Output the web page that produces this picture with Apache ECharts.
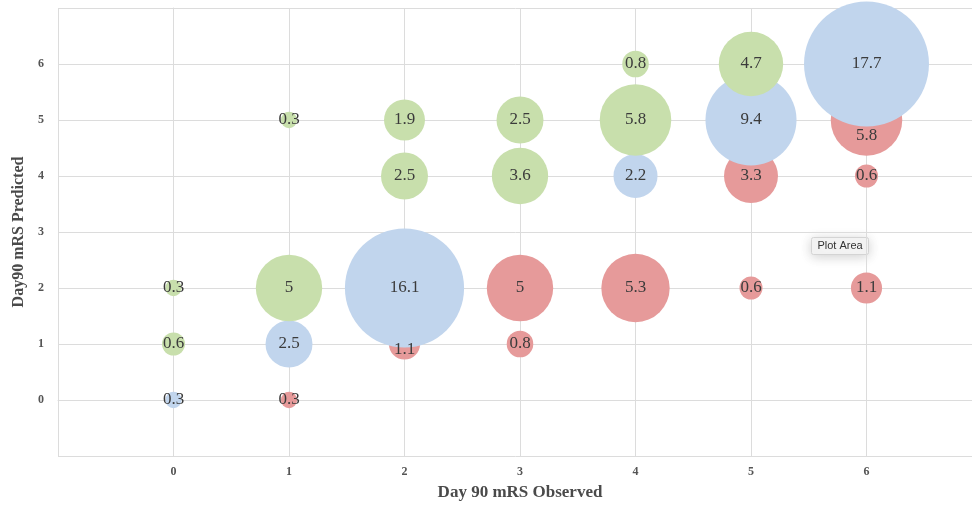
<!DOCTYPE html>
<html>
<head>
<meta charset="utf-8">
<script src="https://cdn.jsdelivr.net/npm/echarts@6/dist/echarts.min.js"></script>
<style>
  html, body { margin: 0; padding: 0; background: #ffffff; overflow: hidden; }
  #chart { width: 972px; height: 506px; }
</style>
</head>
<body>
<div id="chart"></div>
<script>
// Bubble data: [observed, predicted, percent]
var exactMatch = [
  [0, 0, 0.3], [1, 1, 2.5], [2, 2, 16.1], [4, 4, 2.2], [5, 5, 9.4], [6, 6, 17.7]
];
var overPredicted = [
  [0, 1, 0.6], [0, 2, 0.3], [1, 2, 5], [1, 5, 0.3], [2, 4, 2.5], [2, 5, 1.9],
  [3, 4, 3.6], [3, 5, 2.5], [4, 5, 5.8], [4, 6, 0.8], [5, 6, 4.7]
];
var underPredicted = [
  [1, 0, 0.3], [2, 1, 1.1], [3, 1, 0.8], [3, 2, 5], [4, 2, 5.3], [5, 2, 0.6],
  [5, 4, 3.3], [6, 2, 1.1], [6, 4, 0.6], [6, 5, 5.8]
];
var tickLabels = ['0', '1', '2', '3', '4', '5', '6'];
var xTitle = 'Day 90 mRS Observed';
var yTitle = 'Day90 mRS Predicted';
var hoverText = 'Plot Area';

var chart = echarts.init(document.getElementById('chart'), null, { renderer: 'canvas' });

function bubbleSize(d) { return 29.7 * Math.sqrt(d[2]); }

var labelStyle = {
  show: true,
  position: 'inside',
  formatter: function (p) { return String(p.value[2]); },
  fontFamily: 'Liberation Serif',
  fontSize: 17,
  color: '#3b3b3b'
};

function tickFmt(v) {
  var s = String(v);
  return tickLabels.indexOf(s) >= 0 ? s : '';
}

// labels that sit a bit below their bubble centre in the reference
function offsetFor(d) {
  if (d[0] === 6 && d[1] === 5) return [0, 16];
  if (d[0] === 2 && d[1] === 1) return [0, 6];
  return [0, 0];
}

function mk(name, arr, color) {
  return {
    name: name,
    type: 'scatter',
    data: arr.map(function (d) {
      return { value: d, label: { offset: offsetFor(d) } };
    }),
    symbolSize: function (v) { return bubbleSize(v); },
    itemStyle: { color: color, opacity: 1 },
    label: labelStyle,
    emphasis: { disabled: true },
    animation: false
  };
}

var axisLineStyle = { color: '#dcdcdc', width: 1 };

chart.setOption({
  backgroundColor: '#ffffff',
  animation: false,
  grid: { left: 58, top: 8, width: 924, bottom: 50, containLabel: false, outerBoundsMode: 'none' },
  xAxis: {
    type: 'value',
    min: -1, max: 7, interval: 1,
    name: xTitle,
    nameLocation: 'middle',
    nameGap: 28,
    nameTextStyle: { fontFamily: 'Liberation Serif', fontWeight: 'bold', fontSize: 17, color: '#4a4a4a' },
    axisLine: { show: true, lineStyle: axisLineStyle },
    axisTick: { show: false },
    axisLabel: { formatter: tickFmt, fontFamily: 'Liberation Serif', fontWeight: 'bold', fontSize: 12, color: '#555555', margin: 10 },
    splitLine: { show: true, lineStyle: axisLineStyle }
  },
  yAxis: {
    type: 'value',
    min: -1, max: 7, interval: 1,
    name: yTitle,
    nameLocation: 'middle',
    nameGap: 29,
    nameTextStyle: { fontFamily: 'Liberation Serif', fontWeight: 'bold', fontSize: 16, color: '#4a4a4a' },
    axisLine: { show: true, lineStyle: axisLineStyle },
    axisTick: { show: false },
    axisLabel: { formatter: tickFmt, fontFamily: 'Liberation Serif', fontWeight: 'bold', fontSize: 12, color: '#555555', margin: 14 },
    splitLine: { show: true, lineStyle: axisLineStyle }
  },
  series: [
    mk('Under', underPredicted, '#e69a9a'),
    mk('Exact', exactMatch, '#c1d5ed'),
    mk('Over', overPredicted, '#c8dfac')
  ],
  graphic: [{
    type: 'group',
    left: 811, top: 237,
    children: [{
      type: 'rect',
      shape: { x: 0, y: 0, width: 57, height: 17, r: 2 },
      style: { fill: '#f5f5f5', stroke: '#d4d4d4', lineWidth: 1, shadowBlur: 12, shadowColor: 'rgba(0,0,0,0.18)', shadowOffsetY: 2 }
    }, {
      type: 'text',
      x: 28.5, y: 8.5,
      style: { text: hoverText, fontFamily: 'Liberation Sans', fontSize: 11, fill: '#333333', align: 'center', verticalAlign: 'middle' }
    }]
  }]
});
</script>
</body>
</html>
